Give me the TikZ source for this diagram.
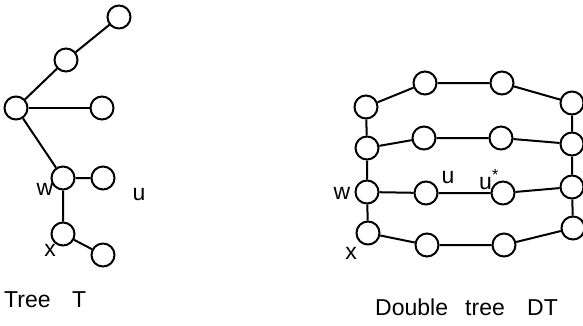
\documentclass[tikz,border=0pt]{standalone}
\usepackage{fontspec}
\setmainfont{Liberation Sans}
\begin{document}
\begin{tikzpicture}[x=1pt,y=-1pt,
  vtx/.style={circle,draw,line width=2pt,minimum size=23pt,inner sep=0pt},
  edge/.style={line width=2pt},
  lbl/.style={inner sep=0pt,font=\fontsize{23}{26}\selectfont},
  caption/.style={inner sep=0pt,anchor=base west,font=\fontsize{23}{26}\selectfont}]
\useasboundingbox (0,0) rectangle (583,325);

% tree T
\node[vtx] (t1) at (119,17) {};
\node[vtx] (t2) at (66,60) {};
\node[vtx] (t0) at (16,108) {};
\node[vtx] (t3) at (102,108) {};
\node[vtx] (tw) at (63,178) {};
\node[vtx] (tu) at (103,178) {};
\node[vtx] (tx) at (63,234) {};
\node[vtx] (t4) at (103,255) {};
\draw[edge] (t0) -- (t2) -- (t1);
\draw[edge] (t0) -- (t3);
\draw[edge] (t0) -- (tw) -- (tu);
\draw[edge] (tw) -- (tx) -- (t4);
\node[lbl] (lw) at (45,189) {w};
\node[lbl] (lu) at (139,195) {u};
\node[lbl] (lx) at (50,250) {x};
\node[caption] (c1) at (4,307) {Tree};
\node[caption] (c2) at (72,307) {T};

% double tree DT
\node[vtx] (a1) at (366,107) {};
\node[vtx] (a2) at (425,83) {};
\node[vtx] (a3) at (502,83) {};
\node[vtx] (a4) at (572,103) {};
\node[vtx] (b1) at (367,148) {};
\node[vtx] (b2) at (424,138) {};
\node[vtx] (b3) at (501,138) {};
\node[vtx] (b4) at (572,144) {};
\node[vtx] (c1n) at (367,192) {};
\node[vtx] (c2n) at (426,193) {};
\node[vtx] (c3n) at (503,193) {};
\node[vtx] (c4n) at (572,187) {};
\node[vtx] (d1) at (368,233) {};
\node[vtx] (d2) at (427,245) {};
\node[vtx] (d3) at (504,245) {};
\node[vtx] (d4) at (573,228) {};
\draw[edge] (a1) -- (a2) -- (a3) -- (a4);
\draw[edge] (b1) -- (b2) -- (b3) -- (b4);
\draw[edge] (c1n) -- (c2n) -- (c3n) -- (c4n);
\draw[edge] (d1) -- (d2) -- (d3) -- (d4);
\draw[edge] (a1) -- (b1) -- (c1n) -- (d1);
\draw[edge] (a4) -- (b4) -- (c4n) -- (d4);
\node[lbl] (rw) at (342,193) {w};
\node[lbl] (ru) at (448,178) {u};
\node[lbl] (rus) at (489,180) {u\textsuperscript{*}};
\node[lbl] (rx) at (351,253) {x};
\node[caption] (d1c) at (375,315) {Double};
\node[caption] (d2c) at (465,315) {tree};
\node[caption] (d3c) at (527,315) {DT};
\end{tikzpicture}
\end{document}
